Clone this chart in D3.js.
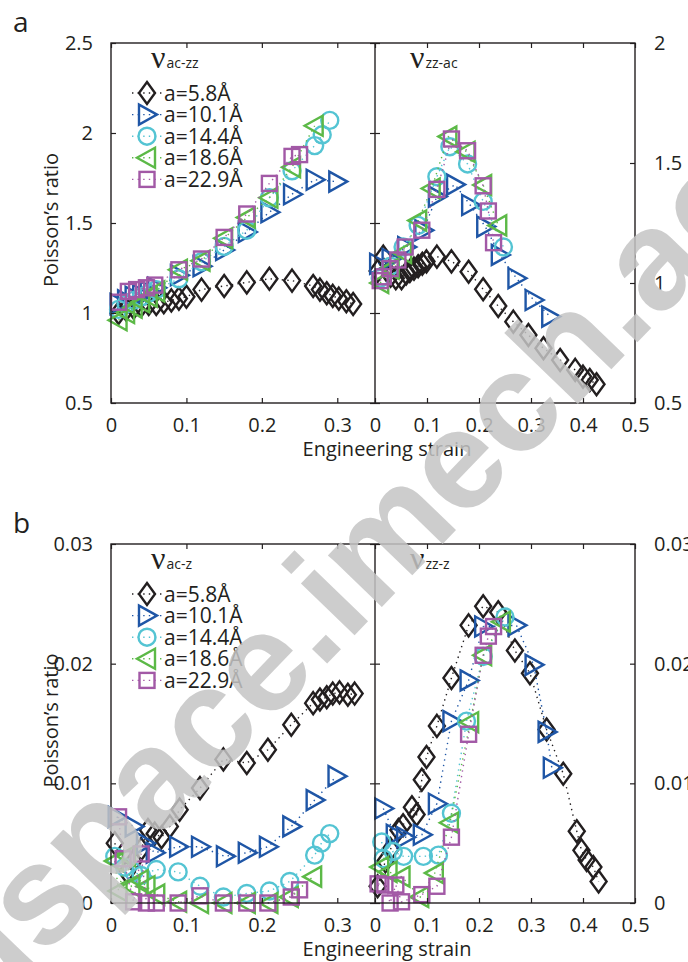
<!DOCTYPE html>
<html><head><meta charset="utf-8">
<script src="https://cdn.jsdelivr.net/npm/d3@7"></script>
<style>body{margin:0;background:#fff}svg{display:block}</style>
</head><body>
<svg id="chart" width="688" height="962"></svg>
<script>
// Series: armchair/zigzag strips of different widths
const sizeLabels = ["a=5.8Å", "a=10.1Å", "a=14.4Å", "a=18.6Å", "a=22.9Å"];
const seriesColors = ["#231f20", "#1f56a6", "#54c4d3", "#5cb947", "#a259a6"];
const seriesMarkers = ["diamond", "triRight", "circle", "triLeft", "square"];

// Axis ticks
const strainTicksLeft = [0, 0.1, 0.2, 0.3];
const strainTicksRight = [0, 0.1, 0.2, 0.3, 0.4, 0.5];
const ratioTicksA = [0.5, 1, 1.5, 2, 2.5];
const ratioTicksARight = [0.5, 1, 1.5, 2];
const ratioTicksB = [0, 0.01, 0.02, 0.03];

// (a) nu_ac-zz : strain and Poisson's ratio per strip width
const acZzStrain = [
  [0.01,0.02,0.03,0.04,0.05,0.06,0.07,0.08,0.09,0.10,0.12,0.15,0.18,0.21,0.24,0.268,0.277,0.286,0.294,0.302,0.312,0.321],
  [0.01,0.02,0.03,0.04,0.05,0.06,0.09,0.12,0.15,0.18,0.21,0.24,0.27,0.30],
  [0.01,0.02,0.03,0.04,0.05,0.06,0.09,0.12,0.15,0.18,0.21,0.24,0.27,0.28,0.29],
  [0.01,0.02,0.03,0.04,0.05,0.06,0.09,0.12,0.15,0.18,0.21,0.24,0.27],
  [0.01,0.023,0.034,0.047,0.058,0.09,0.12,0.15,0.18,0.21,0.24,0.25]
];
const acZzRatio = [
  [1.00,1.02,1.03,1.04,1.05,1.05,1.06,1.07,1.08,1.09,1.13,1.15,1.17,1.19,1.18,1.15,1.13,1.11,1.095,1.08,1.065,1.05],
  [1.05,1.07,1.09,1.10,1.12,1.14,1.21,1.26,1.35,1.45,1.56,1.66,1.74,1.73],
  [1.02,1.05,1.07,1.09,1.11,1.13,1.19,1.285,1.37,1.46,1.64,1.79,1.93,1.99,2.07],
  [0.96,1.00,1.03,1.06,1.09,1.12,1.24,1.29,1.415,1.53,1.64,1.81,2.04],
  [1.06,1.12,1.13,1.14,1.155,1.24,1.30,1.42,1.55,1.72,1.87,1.88]
];

// (a) nu_zz-ac
const zzAcStrain = [
  [0.005,0.016,0.03,0.04,0.051,0.06,0.067,0.075,0.083,0.091,0.099,0.119,0.147,0.18,0.208,0.237,0.266,0.295,0.324,0.356,0.385,0.40,0.413,0.426],
  [0.006,0.03,0.06,0.093,0.119,0.154,0.183,0.212,0.24,0.272,0.305,0.337],
  [0.01,0.03,0.054,0.083,0.119,0.144,0.178,0.208,0.247],
  [0.01,0.03,0.054,0.083,0.109,0.141,0.176,0.208,0.237],
  [0.01,0.016,0.029,0.044,0.058,0.09,0.119,0.147,0.178,0.208,0.218,0.228]
];
const zzAcRatio = [
  [1.05,1.11,1.03,1.02,1.02,1.04,1.05,1.06,1.07,1.08,1.09,1.11,1.09,1.047,0.974,0.904,0.839,0.783,0.728,0.679,0.638,0.61,0.596,0.578],
  [1.08,1.10,1.15,1.22,1.36,1.41,1.325,1.235,1.117,1.02,0.929,0.86],
  [1.02,1.07,1.15,1.24,1.443,1.568,1.496,1.34,1.15],
  [1.00,1.06,1.125,1.26,1.394,1.61,1.547,1.408,1.24],
  [1.01,1.026,1.06,1.096,1.15,1.22,1.39,1.60,1.551,1.405,1.30,1.168]
];

// (b) nu_ac-z
const acZStrain = [
  [0.005,0.021,0.03,0.04,0.049,0.058,0.067,0.078,0.091,0.118,0.149,0.18,0.208,0.239,0.268,0.277,0.286,0.294,0.303,0.314,0.323],
  [0.0075,0.03,0.045,0.058,0.089,0.118,0.151,0.18,0.208,0.239,0.27,0.299],
  [0.005,0.018,0.03,0.04,0.06,0.089,0.118,0.149,0.18,0.21,0.237,0.27,0.279,0.29],
  [0.005,0.01,0.021,0.027,0.038,0.047,0.06,0.089,0.118,0.149,0.18,0.21,0.237,0.268],
  [0.01,0.016,0.03,0.04,0.047,0.06,0.089,0.118,0.149,0.18,0.208,0.239,0.25]
];
const acZRatio = [
  [0.0050,0.0026,0.0035,0.0045,0.0061,0.0058,0.0055,0.0064,0.0078,0.0096,0.0120,0.0117,0.0128,0.0149,0.0167,0.0170,0.0172,0.0175,0.0176,0.0174,0.0175],
  [0.0072,0.0064,0.0050,0.0042,0.0047,0.0047,0.0039,0.0042,0.0047,0.0064,0.0086,0.0106],
  [0.0039,0.0030,0.0026,0.0023,0.0028,0.0026,0.0014,0.0005,0.0008,0.0010,0.0018,0.0040,0.0050,0.0058],
  [0.0035,0.0010,0.0039,0.0014,0.0019,0.0014,0.0007,0.0001,0.0000,0.0000,0.0000,0.0000,0.0005,0.0022],
  [0.0072,0.0037,0.0001,0.0041,0.0000,0.0000,0.0000,0.0006,0.0000,0.0000,0.0000,0.0005,0.0011]
];

// (b) nu_zz-z
const zzZStrain = [
  [0.005,0.02,0.03,0.045,0.054,0.071,0.08,0.09,0.099,0.119,0.147,0.18,0.208,0.237,0.269,0.298,0.33,0.362,0.388,0.397,0.407,0.42,0.43],
  [0.016,0.038,0.058,0.09,0.119,0.147,0.18,0.208,0.272,0.305,0.33,0.34],
  [0.013,0.016,0.035,0.055,0.093,0.122,0.147,0.176,0.208,0.25],
  [0.01,0.026,0.051,0.087,0.115,0.144,0.183,0.208,0.244],
  [0.006,0.019,0.029,0.04,0.051,0.09,0.119,0.147,0.18,0.208,0.218,0.228]
];
const zzZRatio = [
  [0.0014,0.0035,0.0045,0.0061,0.0065,0.0080,0.0074,0.0103,0.0122,0.0148,0.0188,0.0232,0.0248,0.0243,0.0211,0.0192,0.0145,0.0108,0.0060,0.0044,0.0036,0.0030,0.0018],
  [0.0079,0.0057,0.0055,0.0057,0.0083,0.0152,0.0186,0.0231,0.0232,0.0199,0.0143,0.0113],
  [0.0051,0.0037,0.0043,0.0039,0.0039,0.0040,0.0075,0.0152,0.0206,0.0239],
  [0.0030,0.0026,0.0022,0.0005,0.0025,0.0067,0.0151,0.0207,0.0235],
  [0.0016,0.0015,0.0000,0.0015,0.0001,0.0007,0.0014,0.0055,0.0141,0.0207,0.0223,0.0231]
];

const svg = d3.select("#chart");
const ink = "#231f20";
const sansFont = "'Open Sans', 'Noto Sans', sans-serif";

function markerShape(sel, kind, color) {
  const common = s => s.attr("fill", "none").attr("stroke", color).attr("stroke-width", 2.4)
    .attr("stroke-linejoin", "miter");
  if (kind === "circle") return common(sel.append("circle").attr("r", 8.5));
  if (kind === "square") return common(sel.append("rect").attr("x", -7.5).attr("y", -7.5).attr("width", 15).attr("height", 15));
  const paths = {
    diamond: "M0,-11L8,0L0,11L-8,0Z",
    triRight: "M-8,-10L10,0L-8,10Z",
    triLeft: "M8,-10L-10,0L8,10Z"
  };
  return common(sel.append("path").attr("d", paths[kind]));
}

function drawSeries(g, x, y, strains, ratios) {
  const line = d3.line().x(d => x(d[0])).y(d => y(d[1]));
  strains.forEach((s, i) => {
    const pts = s.map((v, j) => [v, ratios[i][j]]);
    g.append("path").datum(pts).attr("d", line).attr("fill", "none")
      .attr("stroke", seriesColors[i]).attr("stroke-width", 1.4)
      .attr("stroke-dasharray", "1.4,4.2");
    g.selectAll(null).data(pts).enter().append("g")
      .attr("transform", d => `translate(${x(d[0])},${y(d[1])})`)
      .each(function () { markerShape(d3.select(this), seriesMarkers[i], seriesColors[i]); });
  });
}

function styleAxis(g, labels) {
  g.select(".domain").remove();
  g.selectAll(".tick line").attr("stroke", ink).attr("stroke-width", 1.2);
  g.selectAll(".tick text").attr("fill", ink).attr("font-family", sansFont).attr("font-size", 20);
  if (!labels) g.selectAll(".tick text").remove();
  g.attr("font-family", null).attr("font-size", null);
}

function title(g, x, y, sub) {
  const t = g.append("text").attr("x", x).attr("y", y).attr("fill", ink);
  t.append("tspan").attr("font-family", "'Liberation Serif', serif").attr("font-size", 32).text("ν");
  t.append("tspan").attr("font-family", sansFont).attr("font-size", 14).attr("dx", 1).text(sub);
}

function panel(cfg) {
  const { top, bottom, yLeftDomain, yRightDomain, leftTicks, rightTicks } = cfg;
  const x0 = 111, xm = 375, x1 = 635;
  const xL = d3.scaleLinear().domain([0, 0.35]).range([x0, xm]);
  const xR = d3.scaleLinear().domain([0, 0.5]).range([xm, x1]);
  const yL = d3.scaleLinear().domain(yLeftDomain).range([bottom, top]);
  const yR = d3.scaleLinear().domain(yRightDomain).range([bottom, top]);
  const g = svg.append("g");
  const fmt = d3.format("~g");

  // data
  drawSeries(g.append("g"), xL, yL, cfg.leftStrain, cfg.leftRatio);
  drawSeries(g.append("g"), xR, yR, cfg.rightStrain, cfg.rightRatio);

  // frame
  g.append("rect").attr("x", x0).attr("y", top).attr("width", x1 - x0).attr("height", bottom - top)
    .attr("fill", "none").attr("stroke", ink).attr("stroke-width", 1.4);
  g.append("line").attr("x1", xm).attr("x2", xm).attr("y1", top).attr("y2", bottom)
    .attr("stroke", ink).attr("stroke-width", 1.4);

  // axes
  g.append("g").attr("transform", `translate(${x0},0)`)
    .call(d3.axisLeft(yL).tickValues(leftTicks).tickFormat(fmt).tickSize(-5).tickPadding(18).tickSizeOuter(0))
    .call(a => styleAxis(a, true));
  g.append("g").attr("transform", `translate(${xm},0)`)
    .call(d3.axisRight(yL).tickValues(leftTicks).tickSize(-5).tickSizeOuter(0)).call(a => styleAxis(a, false));
  g.append("g").attr("transform", `translate(${xm},0)`)
    .call(d3.axisLeft(yL).tickValues(leftTicks).tickSize(-5).tickSizeOuter(0)).call(a => styleAxis(a, false));
  g.append("g").attr("transform", `translate(${x1},0)`)
    .call(d3.axisRight(yR).tickValues(rightTicks).tickFormat(fmt).tickSize(-5).tickPadding(19).tickSizeOuter(0))
    .call(a => styleAxis(a, true));
  g.append("g").attr("transform", `translate(0,${bottom})`)
    .call(d3.axisBottom(xL).tickValues(strainTicksLeft).tickFormat(fmt).tickSize(-5).tickPadding(15).tickSizeOuter(0))
    .call(a => styleAxis(a, true));
  g.append("g").attr("transform", `translate(0,${bottom})`)
    .call(d3.axisBottom(xR).tickValues(strainTicksRight).tickFormat(fmt).tickSize(-5).tickPadding(15).tickSizeOuter(0))
    .call(a => styleAxis(a, true));
  g.append("g").attr("transform", `translate(0,${top})`)
    .call(d3.axisTop(xL).tickValues(strainTicksLeft).tickSize(-5).tickSizeOuter(0)).call(a => styleAxis(a, false));
  g.append("g").attr("transform", `translate(0,${top})`)
    .call(d3.axisTop(xR).tickValues(strainTicksRight).tickSize(-5).tickSizeOuter(0)).call(a => styleAxis(a, false));

  // axis titles
  g.append("text").attr("transform", `translate(58,${(top + bottom) / 2 - 3}) rotate(-90)`)
    .attr("text-anchor", "middle").attr("font-family", sansFont).attr("font-size", 20).attr("fill", ink)
    .text("Poisson’s ratio");
  g.append("text").attr("x", 387).attr("y", bottom + 53).attr("text-anchor", "middle")
    .attr("font-family", sansFont).attr("font-size", 20).attr("fill", ink).text("Engineering strain");

  // panel letter
  g.append("text").attr("x", 13).attr("y", top - 11).attr("font-family", sansFont).attr("font-size", 28)
    .attr("fill", ink).text(cfg.letter);

  title(g, 151, top + 25, cfg.leftTitle);
  title(g, 410, top + 25, cfg.rightTitle);

  // legend
  const lg = g.append("g");
  sizeLabels.forEach((lab, i) => {
    const ly = top + 50 + i * 21.6;
    lg.append("line").attr("x1", 132).attr("x2", 162).attr("y1", ly).attr("y2", ly)
      .attr("stroke", seriesColors[i]).attr("stroke-width", 1.4).attr("stroke-dasharray", "1.4,4.2");
    markerShape(lg.append("g").attr("transform", `translate(147,${ly})`), seriesMarkers[i], seriesColors[i]);
    lg.append("text").attr("x", 164).attr("y", ly + 7.5).attr("font-family", sansFont).attr("font-size", 21)
      .attr("fill", ink).text(lab);
  });
}

panel({
  letter: "a", top: 43, bottom: 403,
  yLeftDomain: [0.5, 2.5], yRightDomain: [0.5, 2],
  leftTicks: ratioTicksA, rightTicks: ratioTicksARight,
  leftTitle: "ac-zz", rightTitle: "zz-ac",
  leftStrain: acZzStrain, leftRatio: acZzRatio,
  rightStrain: zzAcStrain, rightRatio: zzAcRatio
});
panel({
  letter: "b", top: 544, bottom: 903,
  yLeftDomain: [0, 0.03], yRightDomain: [0, 0.03],
  leftTicks: ratioTicksB, rightTicks: ratioTicksB,
  leftTitle: "ac-z", rightTitle: "zz-z",
  leftStrain: acZStrain, leftRatio: acZRatio,
  rightStrain: zzZStrain, rightRatio: zzZRatio
});

// repository stamp across the figure
svg.append("text")
  .attr("transform", "translate(-17,1020) rotate(-46)")
  .attr("font-family", "'Liberation Sans', Arial, sans-serif").attr("font-weight", "bold")
  .attr("font-size", 141).attr("fill", "#c4c4c4").attr("fill-opacity", 0.85)
  .text("dspace.imech.ac.cn");
</script>
</body></html>
